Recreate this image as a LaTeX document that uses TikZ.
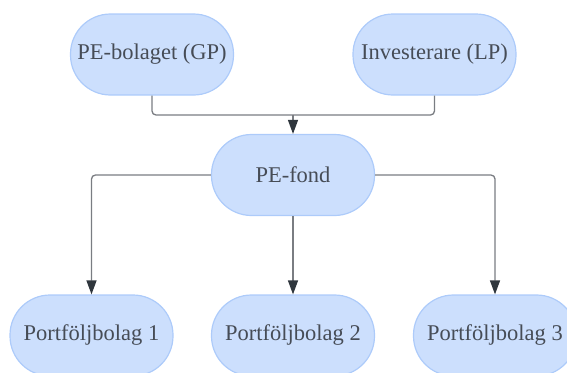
\documentclass[tikz,border=0pt]{standalone}
\usepackage{fontspec}
\setmainfont{Liberation Serif}
\usepackage{tikz}
\usetikzlibrary{arrows.meta,positioning,calc}
\definecolor{boxfill}{HTML}{CCDFFD}
\definecolor{boxline}{HTML}{ADCBFA}
\definecolor{txt}{HTML}{464C56}
\definecolor{wire}{HTML}{7A7D82}
\definecolor{tip}{HTML}{2F363D}
\tikzstyle{box}=[draw=boxline,fill=boxfill,line width=1.2pt,rounded corners=40pt,minimum width=163pt,minimum height=81pt,inner sep=0pt,text=txt,font=\fontsize{22.5}{27}\selectfont]
\tikzstyle{link}=[draw=wire,line width=1.3pt,rounded corners=4pt,-{Triangle[length=14pt,width=10pt,color=tip]}]

\begin{document}
\begin{tikzpicture}[x=1pt,y=-1pt]
\useasboundingbox (0,0) rectangle (567,372);
\node [box] (fond) at (293,175) {PE-fond};
\node [box] (gp) at (152,54.5) {PE-bolaget (GP)};
\node [box] (lp) at (434.5,54.5) {Investerare (LP)};
\node [box] (p1) at (91.5,335.5) {Portföljbolag 1};
\node [box] (p2) at (293,335.5) {Portföljbolag 2};
\node [box] (p3) at (495,335.5) {Portföljbolag 3};
\coordinate (join) at (293,115);

% in to the fund
\draw [draw=wire,line width=1.3pt,rounded corners=4pt] (gp.south) |- (join);
\draw [draw=wire,line width=1.3pt,rounded corners=4pt] (lp.south) |- (join);
\draw [link] (join) -- (fond.north);

% out to the holdings
\draw [link] (fond.west) -| (p1.north);
\draw [link] (fond.south) -- (p2.north);
\draw [link] (fond.east) -| (p3.north);
\end{tikzpicture}
\end{document}
